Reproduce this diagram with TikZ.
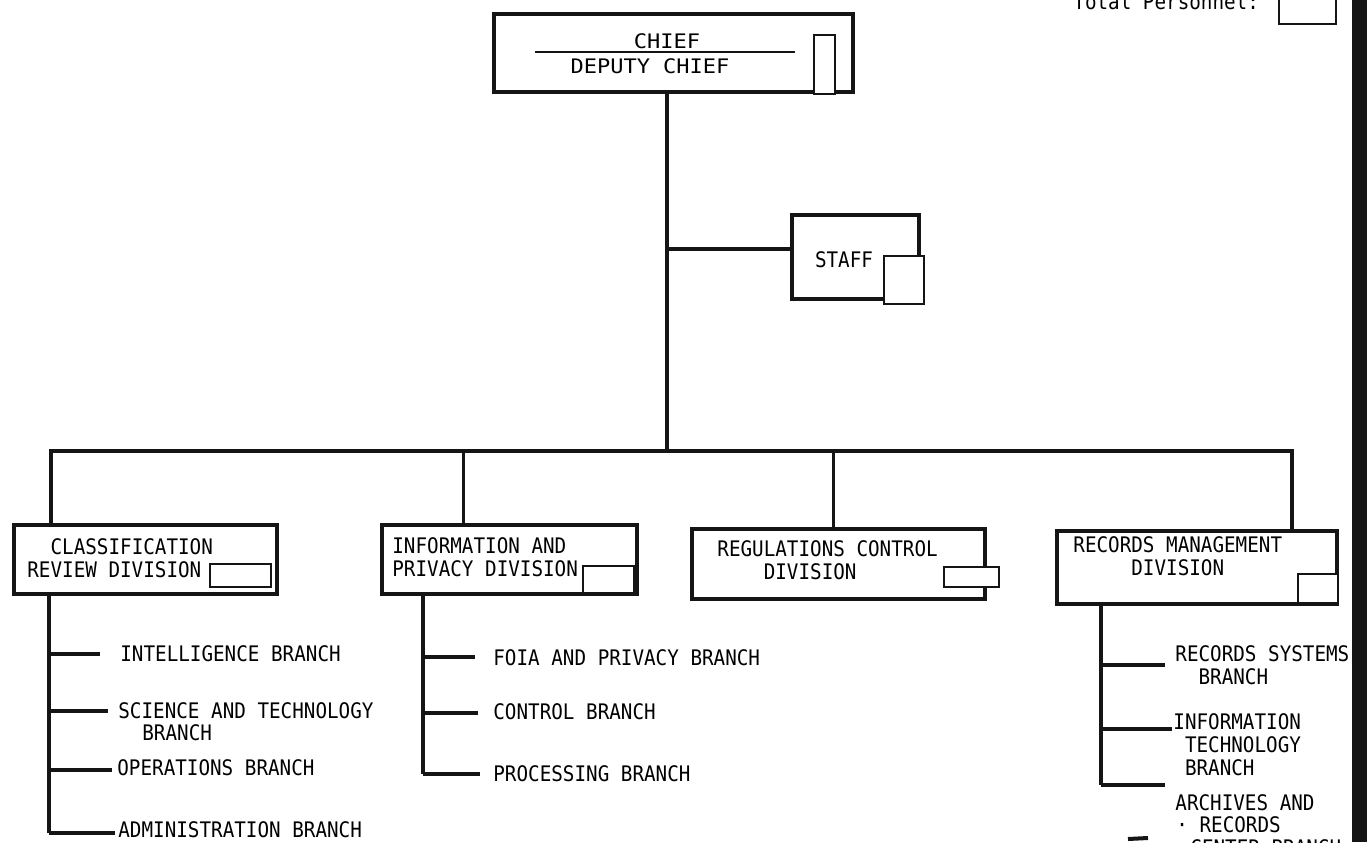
\documentclass[tikz,border=0pt]{standalone}
\usepackage{fontspec}
\usepackage{tikz}
\newfontfamily\orgfont[FakeStretch=0.9]{DejaVu Sans Mono}
\newfontfamily\chieffont[FakeStretch=1.1]{DejaVu Sans Mono}
\definecolor{scanblack}{HTML}{151515}

\begin{document}
\begin{tikzpicture}[x=0.5pt,y=-0.5pt,
  unitbox/.style={draw=scanblack,line width=2pt,fill=white,anchor=north west,inner sep=0pt},
  cntbox/.style={draw=scanblack,line width=1.2pt,fill=white,anchor=north west,inner sep=0pt},
  boxtext/.style={font=\orgfont\fontsize{10.7}{11.5}\selectfont,align=left,inner sep=0pt,anchor=west},
  chieftext/.style={font=\chieffont\fontsize{10}{12}\selectfont,inner sep=0pt},
  link/.style={draw=scanblack,line width=2pt},
  droplink/.style={draw=scanblack,line width=1.5pt},
  tick/.style={draw=scanblack,line width=2pt}]
  \useasboundingbox (0,0) rectangle (1367,842);
  \clip (0,0) rectangle (1367,842);

  % top level
  \node[unitbox,minimum width=179.5pt,minimum height=39pt] (chief) at (492,12) {};
  \node[cntbox,minimum width=10.5pt,minimum height=29.5pt] (chiefN) at (813,34) {};
  \node[chieftext] (chiefT) at (667,41) {CHIEF};
  \node[chieftext] (deputyT) at (650,66.5) {DEPUTY CHIEF};
  \draw[scanblack,line width=0.7pt] (535,52) -- (795,52);

  \node[boxtext,anchor=base west] (totT) at (1073,9) {Total Personnel:};
  \node[cntbox,minimum width=28.5pt,minimum height=17pt] (totN) at (1278,-11) {};

  % trunk, staff and bar
  \coordinate (trunk) at (667,451);
  \coordinate (staffJ) at (667,249);
  \coordinate (barL) at (51,451);
  \coordinate (barR) at (1292,451);
  \coordinate (dInf) at (463,451);
  \coordinate (dReg) at (833,451);

  \node[unitbox,minimum width=63.5pt,minimum height=42pt] (staff) at (790,213) {};
  \draw[link] (trunk |- chief.south) -- (trunk);
  \draw[link] (staffJ) -- (staffJ -| staff.west);
  \node[cntbox,minimum width=20pt,minimum height=24pt] (staffN) at (883,255) {};
  \node[boxtext,anchor=center] (staffT) at (844,260) {STAFF};

  % divisions
  \node[unitbox,minimum width=131.5pt,minimum height=34.5pt] (cls) at (12,523) {};
  \node[unitbox,minimum width=127.5pt,minimum height=34.5pt] (inf) at (380,523) {};
  \node[unitbox,minimum width=146.5pt,minimum height=35pt] (reg) at (690,527) {};
  \node[unitbox,minimum width=140pt,minimum height=36.5pt] (rec) at (1055,529) {};

  \draw[link] (barL |- cls.north) -- (barL) -- (barR) -- (barR |- rec.north);
  \draw[droplink] (dInf) -- (dInf |- inf.north);
  \draw[droplink] (dReg) -- (dReg |- reg.north);

  \node[cntbox,minimum width=30.5pt,minimum height=11.5pt] (clsN) at (209,563) {};
  \node[cntbox,minimum width=25.5pt,minimum height=13.5pt] (infN) at (582,565) {};
  \node[cntbox,minimum width=27.5pt,minimum height=10pt] (regN) at (943,566) {};
  \node[cntbox,minimum width=20pt,minimum height=14.5pt] (recN) at (1297,573) {};

  \node[boxtext] (clsT) at (27,558.5) {\phantom{XX}CLASSIFICATION\\REVIEW DIVISION};
  \node[boxtext] (infT) at (392,557.5) {INFORMATION AND\\PRIVACY DIVISION};
  \node[boxtext] (regT) at (717,560) {REGULATIONS CONTROL\\\phantom{XXXX}DIVISION};
  \node[boxtext] (recT) at (1073,556.5) {RECORDS MANAGEMENT\\\phantom{XXXXX}DIVISION};

  % classification review branches
  \coordinate (clsT1) at (49,654);
  \coordinate (clsT2) at (49,711);
  \coordinate (clsT3) at (49,770);
  \coordinate (clsT4) at (49,833);
  \draw[link] (clsT1 |- cls.south) -- (clsT4);
  \draw[tick] (clsT1) -- ++(51,0);
  \draw[tick] (clsT2) -- ++(59,0);
  \draw[tick] (clsT3) -- ++(63,0);
  \draw[tick] (clsT4) -- ++(66,0);
  \node[boxtext] (clsB1) at (120,654) {INTELLIGENCE BRANCH};
  \node[boxtext] (clsB2) at (118,711) {SCIENCE AND TECHNOLOGY};
  \node[boxtext] (clsB2b) at (142,733) {BRANCH};
  \node[boxtext] (clsB3) at (117,768) {OPERATIONS BRANCH};
  \node[boxtext] (clsB4) at (118,830) {ADMINISTRATION BRANCH};

  % information and privacy branches
  \coordinate (infT1) at (423,657);
  \coordinate (infT2) at (423,713);
  \coordinate (infT3) at (423,774);
  \draw[link] (infT1 |- inf.south) -- (infT3);
  \draw[tick] (infT1) -- ++(52,0);
  \draw[tick] (infT2) -- ++(55,0);
  \draw[tick] (infT3) -- ++(57,0);
  \node[boxtext] (infB1) at (493,658) {FOIA AND PRIVACY BRANCH};
  \node[boxtext] (infB2) at (493,712) {CONTROL BRANCH};
  \node[boxtext] (infB3) at (493,774) {PROCESSING BRANCH};

  % records management branches
  \coordinate (recT1) at (1101,665);
  \coordinate (recT2) at (1101,729);
  \coordinate (recT3) at (1101,785);
  \draw[link] (recT1 |- rec.south) -- (recT3);
  \draw[tick] (recT1) -- ++(64,0);
  \draw[tick] (recT2) -- ++(71,0);
  \draw[tick] (recT3) -- ++(64,0);
  \node[boxtext] (recB1) at (1175,665) {RECORDS SYSTEMS\\\phantom{XX}BRANCH};
  \node[boxtext] (recB2) at (1173,745) {INFORMATION\\\phantom{X}TECHNOLOGY\\\phantom{X}BRANCH};
  \node[boxtext] (recB3) at (1175,803) {ARCHIVES AND};
  \node[boxtext] (recB3b) at (1176,825) {\textperiodcentered\ RECORDS};
  \node[boxtext] (recB3c) at (1190,848) {CENTER BRANCH};
  \draw[tick] (1128,839) -- (1148,838);

  % scan edge
  \fill[scanblack] (1352,0) rectangle (1367,842);
\end{tikzpicture}
\end{document}
